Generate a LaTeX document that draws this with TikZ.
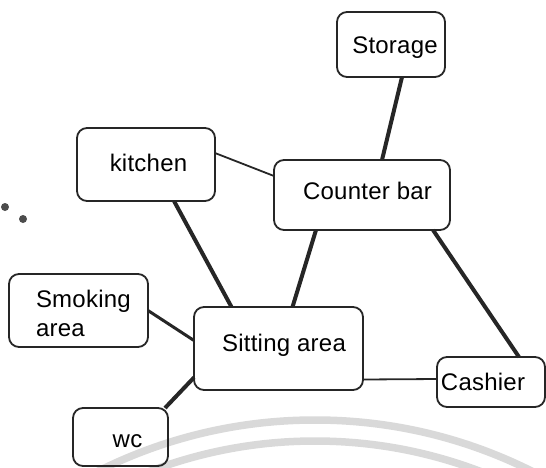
\documentclass[tikz,border=0pt]{standalone}
\usepackage{fontspec}
\setmainfont{Liberation Sans}[LetterSpace=1]
% room label placed by its own offset: #1 sideways shift, #2 baseline height from the centre
\newcommand\roomtext[3]{\raisebox{#2}[0pt][0pt]{\makebox[0pt][c]{\hspace*{#1}\hspace*{#1}#3}}}
\begin{document}
\begin{tikzpicture}[x=1pt,y=-1pt,
  room/.style={draw=black!85, line width=1.8pt, rounded corners=10pt,
    inner sep=0pt, outer sep=0pt, font=\fontsize{24pt}{29pt}\selectfont},
  thinlink/.style={draw=black!85, line width=1.8pt},
  thicklink/.style={draw=black!85, line width=4pt},
  midlink/.style={draw=black!85, line width=3pt},
  faint/.style={draw=black!15, line width=7.5pt}]
\useasboundingbox (0,0) rectangle (546,467);

% faint background arcs and specks
\begin{scope}
  \clip (0,0) rectangle (546,467);
  \draw[faint] (315,904) circle[radius=484pt];
  \draw[faint] (315,904) circle[radius=463pt];
\end{scope}
\fill[black!70] (5,207) circle[radius=4pt];
\fill[black!70] (23,219) circle[radius=4pt];

% rooms
\node[room, minimum width=108pt, minimum height=65pt] (storage) at (391,44.5)
  {\roomtext{4pt}{-8.5pt}{Storage}};
\node[room, minimum width=176pt, minimum height=70pt] (counter) at (362,195)
  {\roomtext{5.5pt}{-4.5pt}{Counter bar}};
\node[room, minimum width=138pt, minimum height=73pt] (kitchen) at (146,164.5)
  {\roomtext{2.5pt}{-6.5pt}{kitchen}};
\node[room, minimum width=169pt, minimum height=83pt] (sitting) at (278.5,348.5)
  {\roomtext{5.5pt}{-2.5pt}{Sitting area}};
\node[room, minimum width=108pt, minimum height=50pt] (cashier) at (491,382)
  {\roomtext{-8pt}{-8.5pt}{Cashier}};
\node[room, minimum width=139pt, minimum height=73pt] (smoking) at (78.5,310.5)
  {\raisebox{-25.5pt}[0pt][0pt]{\makebox[0pt][l]{\hspace*{-42.5pt}%
    \begin{tabular}[b]{@{}l@{}}Smoking\\area\end{tabular}}}};
\node[room, minimum width=95pt, minimum height=58pt] (wc) at (120.5,437)
  {\roomtext{7pt}{-10.5pt}{wc}};

% links between rooms
\draw[thicklink] ([xshift=11pt]storage.south) -- ([xshift=20pt]counter.north);
\draw[thinlink] ([yshift=11.5pt]kitchen.east) -- ([yshift=19pt]counter.west);
\draw[thicklink] ([xshift=28pt]kitchen.south) -- ([xshift=-47pt]sitting.north);
\draw[thicklink] ([xshift=-46pt]counter.south) -- ([xshift=14pt]sitting.north);
\draw[thicklink] ([xshift=71pt]counter.south) -- ([xshift=28pt]cashier.north);
\draw[midlink] (smoking.east) -- ([yshift=8pt]sitting.west);
\draw[thicklink] ([yshift=-29pt]sitting.west) -- ([xshift=-3pt]wc.north east);
\draw[thinlink] ([yshift=-31pt]sitting.east) -- ([yshift=3pt]cashier.west);
\end{tikzpicture}
\end{document}
